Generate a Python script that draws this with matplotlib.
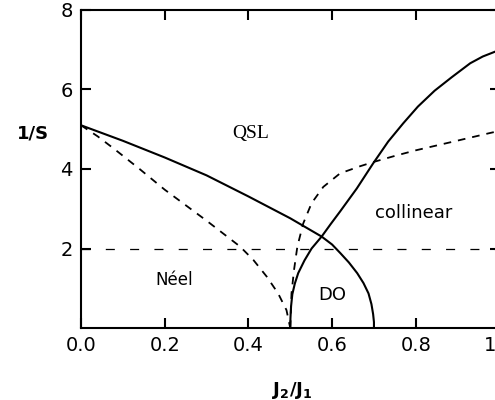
import matplotlib
matplotlib.use("Agg")
import matplotlib.pyplot as plt

plt.rcParams['lines.scale_dashes'] = False
plt.rcParams['mathtext.fontset'] = 'dejavusans'

# Solid boundary: QSL / Neel-collinear-DO arc
qsl_x = [0.0, 0.1, 0.2, 0.3, 0.4, 0.5, 0.575, 0.60, 0.62, 0.64, 0.66, 0.675, 0.687, 0.694, 0.698, 0.7, 0.70]
qsl_y = [5.1, 4.71, 4.29, 3.84, 3.31, 2.76, 2.30, 2.10, 1.88, 1.65, 1.38, 1.13, 0.87, 0.60, 0.35, 0.15, 0.0]

# Solid boundary rising from J2/J1 = 0.5
rise_x = [0.5, 0.5005, 0.502, 0.505, 0.511, 0.519, 0.534, 0.551, 0.575, 0.597, 0.619, 0.659, 0.698, 0.734, 0.77, 0.805, 0.845, 0.886, 0.93, 0.96, 0.989, 1.0]
rise_y = [0.0, 0.25, 0.55, 0.85, 1.12, 1.38, 1.70, 2.0, 2.30, 2.62, 2.93, 3.51, 4.14, 4.69, 5.15, 5.57, 5.97, 6.31, 6.66, 6.83, 6.95, 7.0]

# Dashed boundary (Neel side)
dneel_x = [0.0, 0.04, 0.08, 0.14, 0.2, 0.3, 0.38, 0.412, 0.444, 0.471, 0.491, 0.5]
dneel_y = [5.1, 4.82, 4.5, 4.0, 3.48, 2.7, 2.05, 1.71, 1.29, 0.87, 0.45, 0.0]

# Dashed boundary (collinear side)
dcol_x = [0.5, 0.5015, 0.503, 0.509, 0.517, 0.531, 0.551, 0.579, 0.619, 0.667, 0.70, 0.75, 0.80, 0.89, 0.975, 1.0]
dcol_y = [0.0, 0.45, 0.87, 1.46, 2.05, 2.63, 3.14, 3.55, 3.89, 4.07, 4.18, 4.33, 4.47, 4.69, 4.90, 4.96]

# Horizontal reference line 1/S = 2
href_y = 2.0

x_ticks = [0.0, 0.2, 0.4, 0.6, 0.8, 1.0]
y_ticks = [2, 4, 6, 8]

region_labels = ["QSL", "Néel", "DO", "collinear"]
region_x = [0.406, 0.222, 0.601, 0.795]
region_y = [4.9, 1.21, 0.83, 2.89]

fig = plt.figure(figsize=(4.95, 4.0), dpi=100)
ax = fig.add_axes([81/495, 72/400, 418.5/495, 318/400])

ax.plot(qsl_x, qsl_y, color='black', lw=1.5, solid_joinstyle='round')
ax.plot(rise_x, rise_y, color='black', lw=1.5, solid_joinstyle='round')
ax.plot(dneel_x, dneel_y, color='black', lw=1.3, linestyle=(0, (5.5, 5)))
ax.plot(dcol_x, dcol_y, color='black', lw=1.3, linestyle=(0, (5.5, 5)))
ax.axhline(href_y, color='black', lw=0.9, linestyle=(0, (6.5, 11)))

ax.set_xlim(0, 1.0)
ax.set_ylim(0, 8)
ax.set_xticks(x_ticks)
ax.set_xticklabels([f"{v:.1f}" for v in x_ticks])
ax.set_yticks(y_ticks)
ax.set_yticklabels([str(v) for v in y_ticks])
ax.tick_params(direction='in', length=7.5, width=1.5, labelsize=14,
               top=True, right=True, pad=6)
for s in ax.spines.values():
    s.set_linewidth(1.5)

ax.text(region_x[0], region_y[0], region_labels[0], family='Liberation Serif',
        fontsize=14, ha='center', va='center')
ax.text(region_x[1], region_y[1], region_labels[1], family='DejaVu Sans',
        fontsize=12, ha='center', va='center')
ax.text(region_x[2], region_y[2], region_labels[2], family='DejaVu Sans',
        fontsize=13, ha='center', va='center')
ax.text(region_x[3], region_y[3], region_labels[3], family='DejaVu Sans',
        fontsize=13, ha='center', va='center')

ax.text(-0.115, 0.613, "1/S", transform=ax.transAxes, fontsize=13,
        fontweight='bold', ha='center', va='center')
ax.text(0.504, -0.195, r"$\mathbf{J_2/J_1}$", transform=ax.transAxes,
        fontsize=13, ha='center', va='center')

fig.savefig("out.png", dpi=100)
